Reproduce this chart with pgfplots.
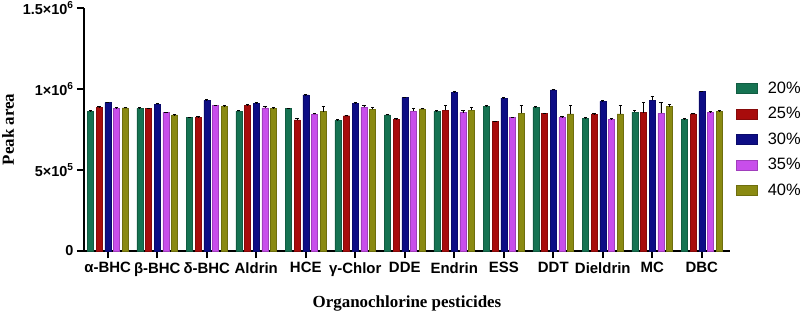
\documentclass[border=0pt]{standalone}
\usepackage{pgfplots}
\pgfplotsset{compat=1.18}
\usepackage{fontspec}
\setmainfont{Liberation Sans}
\newfontfamily\timesfont{Liberation Serif}
\definecolor{cgreen}{RGB}{22,115,82}
\definecolor{cred}{RGB}{168,12,12}
\definecolor{cblue}{RGB}{13,13,133}
\definecolor{cpink}{RGB}{200,78,235}
\definecolor{colive}{RGB}{138,138,18}
\begin{document}
\begin{tikzpicture}
\begin{axis}[
  scale only axis,
  width=646bp, height=243bp,
  xmin=-0.48, xmax=12.57,
  ymin=0, ymax=1.5e6,
  axis x line=bottom, axis y line=left,
  axis line style={line width=2.6bp, -},
  every tick/.style={black, line width=2.4bp},
  major tick length=7bp,
  tick align=outside,
  xtick={0,...,12},
  xticklabels={α-BHC,β-BHC,δ-BHC,Aldrin,HCE,γ-Chlor,DDE,Endrin,ESS,DDT,Dieldrin,MC,DBC},
  ytick={0,5e5,1e6,1.5e6},
  yticklabels={0,5×10\textsuperscript{5},1×10\textsuperscript{6},1.5×10\textsuperscript{6}},
  scaled y ticks=false,
  minor tick num=0,
  tick label style={font=\bfseries\fontsize{14.5}{15}\selectfont},
  xticklabel style={yshift=-1bp, font=\bfseries\fontsize{15}{15}\selectfont},
  xlabel={\timesfont\bfseries\fontsize{17}{18}\selectfont Organochlorine pesticides},
  ylabel={\timesfont\bfseries\fontsize{17}{18}\selectfont Peak area},
  xlabel style={yshift=-12bp},
  ylabel style={yshift=2bp},
  ybar=2.7bp, bar width=6bp,
  error bars/y dir=plus, error bars/y explicit,
  error bars/error bar style={black, line width=0.8bp},
  error bars/error mark options={rotate=90, mark size=1.6bp, black, line width=0.8bp},
  legend style={at={(1.005,0.713)}, anchor=north west, draw=none, fill=none,
    font=\fontsize{16.5}{17.5}\selectfont, row sep=8.5bp,
    /tikz/every odd column/.append style={column sep=8bp}},
  legend cell align=left,
  legend image code/.code={\fill[#1] (0bp,-5bp) rectangle (21bp,5bp);},
  clip=false,
]
\addplot[fill=cgreen, draw=cgreen!80!black] coordinates {
(0,864000) +- (0,3000) (1,881000) +- (0,3000) (2,823000) +- (0,4000) (3,864000) +- (0,4000)
(4,879000) +- (0,3000) (5,807000) +- (0,3000) (6,840000) +- (0,3000) (7,862000) +- (0,3000)
(8,893000) +- (0,3000) (9,887000) +- (0,3000) (10,819000) +- (0,3000) (11,858000) +- (0,12000)
(12,813000) +- (0,3000)};
\addplot[fill=cred, draw=cred!80!black] coordinates {
(0,885000) +- (0,6000) (1,879000) +- (0,4000) (2,825000) +- (0,4000) (3,897000) +- (0,5000)
(4,810000) +- (0,7000) (5,835000) +- (0,3000) (6,813000) +- (0,4000) (7,868000) +- (0,29000)
(8,800000) +- (0,3000) (9,849000) +- (0,3000) (10,844000) +- (0,4000) (11,854000) +- (0,64000)
(12,846000) +- (0,3000)};
\addplot[fill=cblue, draw=cblue!80!black] coordinates {
(0,916000) +- (0,3000) (1,905000) +- (0,9000) (2,930000) +- (0,3000) (3,912000) +- (0,3000)
(4,963000) +- (0,3000) (5,912000) +- (0,3000) (6,947000) +- (0,3000) (7,979000) +- (0,4000)
(8,944000) +- (0,3000) (9,994000) +- (0,4000) (10,924000) +- (0,3000) (11,932000) +- (0,25000)
(12,984000) +- (0,3000)};
\addplot[fill=cpink, draw=cpink!80!black] coordinates {
(0,881000) +- (0,3000) (1,856000) +- (0,2000) (2,897000) +- (0,4000) (3,883000) +- (0,9000)
(4,844000) +- (0,5000) (5,887000) +- (0,14000) (6,864000) +- (0,17000) (7,854000) +- (0,14000)
(8,823000) +- (0,3000) (9,825000) +- (0,4000) (10,813000) +- (0,3000) (11,850000) +- (0,68000)
(12,856000) +- (0,4000)};
\addplot[fill=colive, draw=colive!80!black] coordinates {
(0,883000) +- (0,4000) (1,840000) +- (0,2000) (2,891000) +- (0,9000) (3,879000) +- (0,7000)
(4,860000) +- (0,31000) (5,874000) +- (0,11000) (6,877000) +- (0,6000) (7,870000) +- (0,19000)
(8,850000) +- (0,49000) (9,846000) +- (0,55000) (10,846000) +- (0,55000) (11,891000) +- (0,14000)
(12,864000) +- (0,3000)};
\legend{20\%,25\%,30\%,35\%,40\%}
\end{axis}
\pgfresetboundingbox
\path[use as bounding box] (-84bp,-62bp) rectangle (719bp,251bp);
\end{tikzpicture}
\end{document}
